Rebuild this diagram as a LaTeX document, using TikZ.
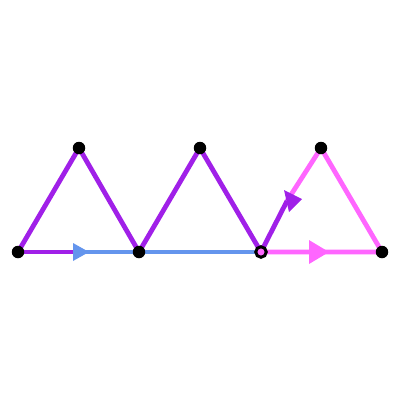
\documentclass[tikz,border=0pt]{standalone}
\definecolor{pur}{HTML}{A020E8}
\definecolor{blu}{HTML}{6495ED}
\definecolor{pnk}{HTML}{FF66FF}
\begin{document}
\begin{tikzpicture}[x=1pt,y=-1pt,
  edge/.style={line width=4.8pt,line join=round},
  dot/.style={circle,fill=black,inner sep=0pt,minimum size=12.5pt},
  ring/.style={circle,draw=black,fill=pnk,line width=3pt,inner sep=0pt,minimum size=10.5pt}]
\useasboundingbox (0,0) rectangle (400,400);
\coordinate (p1) at (18,252);
\coordinate (p2) at (139,252);
\coordinate (p3) at (261,252);
\coordinate (p4) at (382,252);
\coordinate (t1) at (79,148);
\coordinate (t2) at (200,148);
\coordinate (t3) at (321,148);
\coordinate (m1) at (76,252);
\coordinate (m3) at (287,201);
% edges
\draw[edge,pur] (p1) -- (m1);
\draw[edge,blu] (m1) -- (p3);
\draw[edge,pnk] (p3) -- (p4) -- (t3) -- (m3);
\draw[edge,pur] (p1) -- (t1) -- (p2) -- (t2) -- (p3) -- (m3);
% arrowheads
\fill[blu] (73,243) -- (89,252) -- (73,261) -- cycle;
\fill[pnk] (309,240) -- (329,252) -- (309,264) -- cycle;
\fill[pur] (284,190) -- (302,199) -- (289,212) -- cycle;
% nodes
\node[dot] (n1) at (p1) {};
\node[dot] (n2) at (p2) {};
\node[dot] (n4) at (p4) {};
\node[dot] (n5) at (t1) {};
\node[dot] (n6) at (t2) {};
\node[dot] (n7) at (t3) {};
\node[ring] (n3) at (p3) {};
\end{tikzpicture}
\end{document}
